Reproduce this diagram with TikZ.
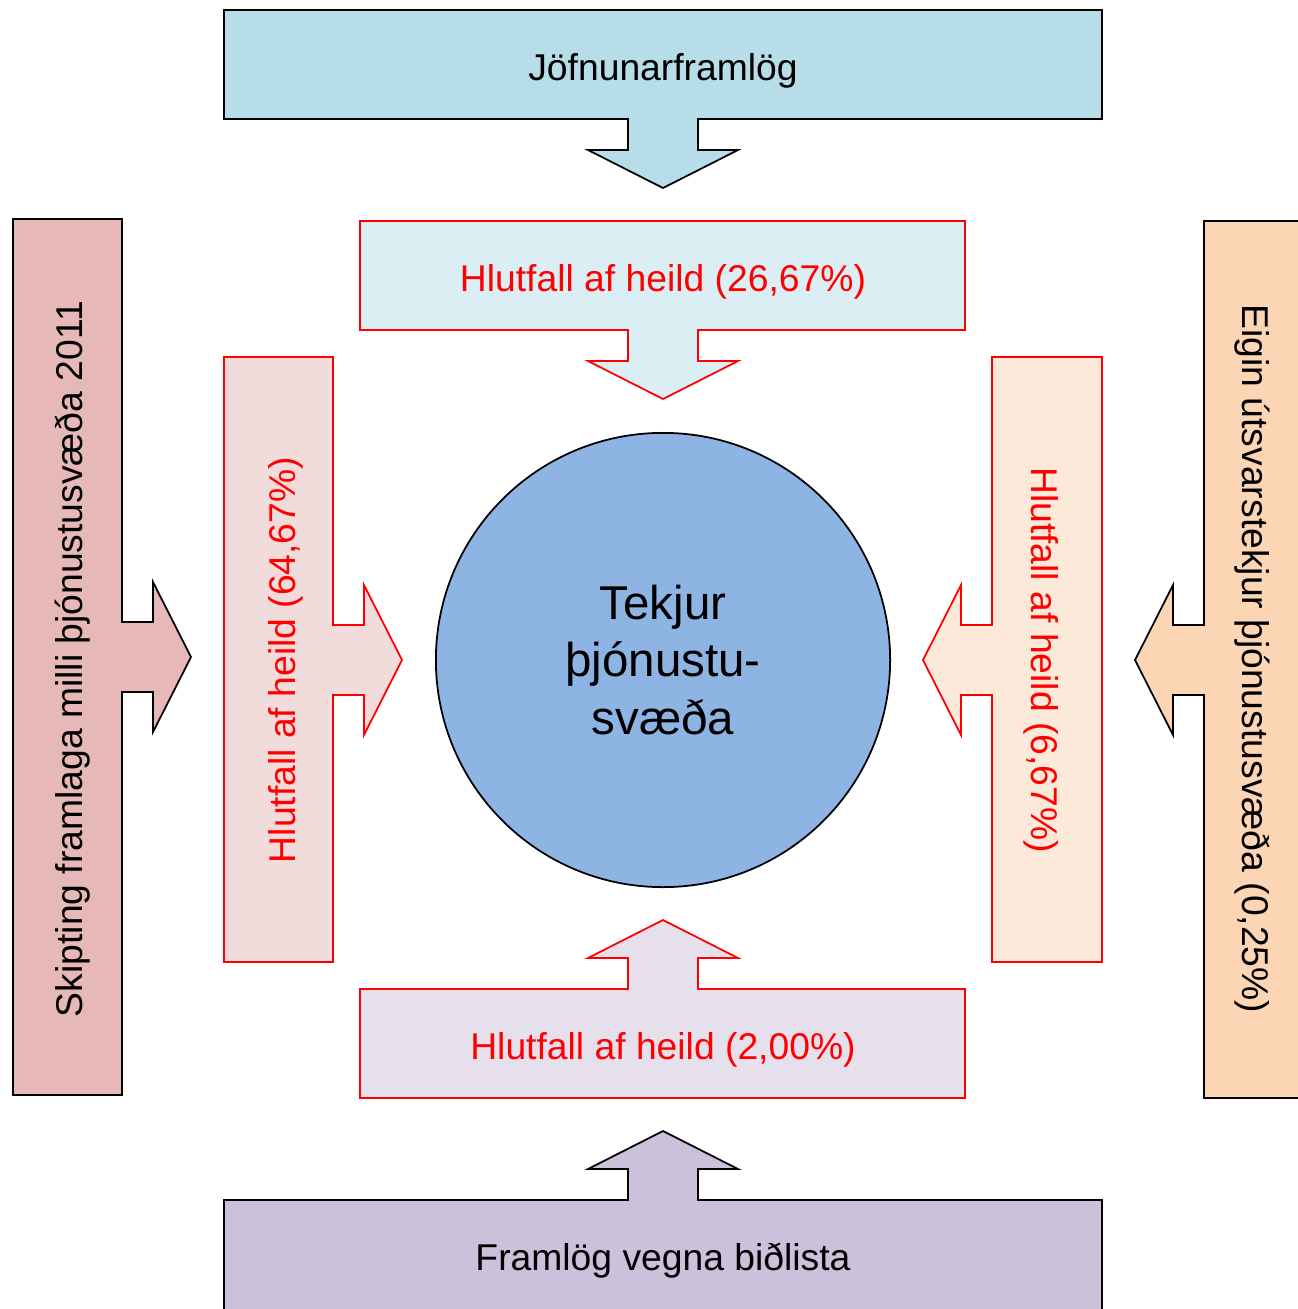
\documentclass[tikz,border=0pt]{standalone}
\usepackage{fontspec}
\setmainfont{Liberation Sans}
\definecolor{topout}{HTML}{B7DEE8}
\definecolor{topin}{HTML}{DBEEF4}
\definecolor{leftout}{HTML}{E6B9B8}
\definecolor{leftin}{HTML}{F2DCDB}
\definecolor{rightout}{HTML}{FCD5B5}
\definecolor{rightin}{HTML}{FDE9D9}
\definecolor{botout}{HTML}{CCC1DA}
\definecolor{botin}{HTML}{E5E0EC}
\definecolor{hub}{HTML}{8EB4E3}
\tikzset{
  outer/.style={draw=black, line width=0.5pt},
  inner/.style={draw=red, line width=0.5pt},
  lbl/.style={font=\fontsize{10.6}{12.7}\selectfont, inner sep=0pt},
  redlbl/.style={lbl, text=red},
}
% box with an arrow out of one side: style, left, right, top, bottom (, centre)
\newcommand{\calldown}[5]{%
  \draw[#1] (#2,#4) -- (#3,#4) -- (#3,#5) -- (698,#5) -- (698,{#5+31}) -- (738,{#5+31})
    -- (663,{#5+69}) -- (588,{#5+31}) -- (628,{#5+31}) -- (628,#5) -- (#2,#5) -- cycle;}
\newcommand{\callup}[5]{%
  \draw[#1] (#2,#5) -- (#2,#4) -- (628,#4) -- (628,{#4-31}) -- (588,{#4-31})
    -- (663,{#4-69}) -- (738,{#4-31}) -- (698,{#4-31}) -- (698,#4) -- (#3,#4) -- (#3,#5) -- cycle;}
\newcommand{\callright}[6]{%
  \draw[#1] (#2,#4) -- (#3,#4) -- (#3,{#6-35}) -- ({#3+31},{#6-35}) -- ({#3+31},{#6-75})
    -- ({#3+69},#6) -- ({#3+31},{#6+75}) -- ({#3+31},{#6+35}) -- (#3,{#6+35}) -- (#3,#5) -- (#2,#5) -- cycle;}
\newcommand{\callleft}[6]{%
  \draw[#1] (#3,#4) -- (#2,#4) -- (#2,{#6-35}) -- ({#2-31},{#6-35}) -- ({#2-31},{#6-75})
    -- ({#2-69},#6) -- ({#2-31},{#6+75}) -- ({#2-31},{#6+35}) -- (#2,{#6+35}) -- (#2,#5) -- (#3,#5) -- cycle;}
\begin{document}
\begin{tikzpicture}[x=0.01cm, y=-0.01cm]
  \useasboundingbox (0,0) rectangle (1298,1309);
  \clip (0,0) rectangle (1298,1309);
  % outer ring
  \calldown{outer, fill=topout}{224}{1102}{10}{119}
  \callup{outer, fill=botout}{224}{1102}{1200}{1312}
  \callright{outer, fill=leftout}{13}{122}{219}{1095}{657}
  \callleft{outer, fill=rightout}{1204}{1312}{221}{1098}{660}
  % inner ring
  \calldown{inner, fill=topin}{360}{965}{221}{330}
  \callup{inner, fill=botin}{360}{965}{989}{1098}
  \callright{inner, fill=leftin}{224}{333}{357}{962}{660}
  \callleft{inner, fill=rightin}{992}{1102}{357}{962}{660}
  % labels
  \node[lbl] (jofn) at (663,71) {Jöfnunarframlög};
  \node[lbl] (bid) at (663,1261) {Framlög vegna biðlista};
  \node[lbl, rotate=90] (skip) at (73,659) {Skipting framlaga milli þjónustusvæða 2011};
  \node[lbl, rotate=-90] (eigin) at (1252,659) {Eigin útsvarstekjur þjónustusvæða (0,25\%)};
  \node[redlbl] (htop) at (663,282) {Hlutfall af heild (26,67\%)};
  \node[redlbl] (hbot) at (663,1050) {Hlutfall af heild (2,00\%)};
  \node[redlbl, rotate=90] (hleft) at (286,660) {Hlutfall af heild (64,67\%)};
  \node[redlbl, rotate=-90] (hright) at (1041,660) {Hlutfall af heild (6,67\%)};
  % centre
  \node[circle, draw, line width=0.5pt, fill=hub, minimum size=4.54cm, align=center,
        font=\fontsize{13.5}{16.3}\selectfont] (tekjur) at (663,660)
        {Tekjur\\þjónustu-\\svæða};
\end{tikzpicture}
\end{document}
